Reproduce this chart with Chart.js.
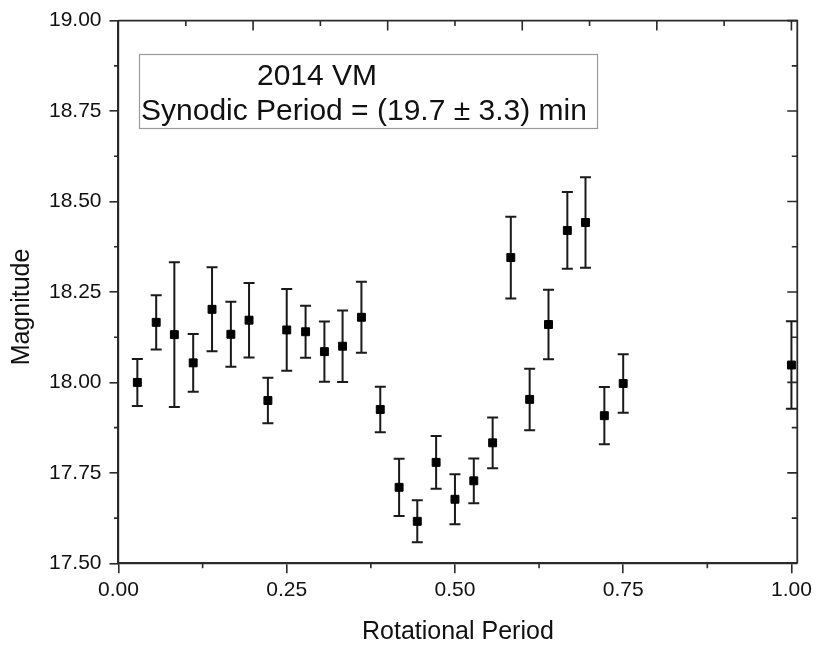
<!DOCTYPE html>
<html>
<head>
<meta charset="utf-8">
<script src="https://cdn.jsdelivr.net/npm/chart.js@4"></script>
<style>
  html, body { margin: 0; padding: 0; background: #fff; }
  #c { display: block; }
</style>
</head>
<body>
<canvas id="c" width="816" height="646"></canvas>
<script>
// ---- data ----
const phase = [0.028, 0.056, 0.083, 0.111, 0.139, 0.167, 0.194, 0.222, 0.250, 0.278,
               0.306, 0.333, 0.361, 0.389, 0.417, 0.444, 0.472, 0.500, 0.528, 0.556,
               0.583, 0.611, 0.639, 0.667, 0.694, 0.722, 0.750, 1.000];
const magnitude = [18.000, 18.166, 18.132, 18.054, 18.202, 18.133, 18.172, 17.950, 18.145, 18.140,
                   18.085, 18.100, 18.180, 17.925, 17.710, 17.616, 17.779, 17.677, 17.728, 17.833,
                   18.345, 17.953, 18.160, 18.420, 18.442, 17.908, 17.997, 18.048];
const magError = [0.065, 0.075, 0.200, 0.080, 0.116, 0.090, 0.103, 0.063, 0.113, 0.072,
                  0.083, 0.099, 0.098, 0.063, 0.079, 0.058, 0.073, 0.069, 0.062, 0.070,
                  0.113, 0.085, 0.096, 0.106, 0.125, 0.079, 0.081, 0.121];
const xTickValues = [0, 0.25, 0.5, 0.75, 1.0];
const xMinorValues = [0.125, 0.375, 0.625, 0.875];
const topTickValues = [0.1, 0.2, 0.3, 0.4, 0.5, 0.6, 0.7, 0.8, 0.9, 1.0];
const topMajorValues = [0.2, 0.4, 0.6, 0.8, 1.0];
const yTickValues = [17.5, 17.75, 18.0, 18.25, 18.5, 18.75, 19.0];
const yMinorValues = [17.625, 17.875, 18.125, 18.375, 18.625, 18.875];
const xTitle = "Rotational Period";
const yTitle = "Magnitude";
const boxLines = ["2014 VM", "Synodic Period = (19.7 \u00B1 3.3) min"];

const FONT = 'Arial, "Liberation Sans", Helvetica, sans-serif';
const INK = '#111';
const LINE = '#2a2a2a';

const decor = {
  id: 'decor',
  beforeDatasetsDraw(chart) {
    const ctx = chart.ctx, xs = chart.scales.x, ys = chart.scales.y;
    ctx.save();
    ctx.strokeStyle = '#1a1a1a';
    ctx.lineWidth = 2;
    for (let i = 0; i < phase.length; i++) {
      const px = xs.getPixelForValue(phase[i]);
      const top = ys.getPixelForValue(magnitude[i] + magError[i]);
      const bot = ys.getPixelForValue(magnitude[i] - magError[i]);
      ctx.beginPath();
      ctx.moveTo(px, top); ctx.lineTo(px, bot);
      ctx.moveTo(px - 5.5, top); ctx.lineTo(px + 5.5, top);
      ctx.moveTo(px - 5.5, bot); ctx.lineTo(px + 5.5, bot);
      ctx.stroke();
    }
    ctx.restore();
  },
  afterDraw(chart) {
    const ctx = chart.ctx, xs = chart.scales.x, ys = chart.scales.y;
    const a = chart.chartArea;
    ctx.save();
    ctx.strokeStyle = LINE;
    // minor outward ticks
    ctx.lineWidth = 1.6;
    ctx.beginPath();
    xMinorValues.forEach(v => { const p = xs.getPixelForValue(v); ctx.moveTo(p, a.bottom); ctx.lineTo(p, a.bottom + 5); });
    yMinorValues.forEach(v => { const p = ys.getPixelForValue(v); ctx.moveTo(a.left, p); ctx.lineTo(a.left - 4.5, p); });
    ctx.stroke();
    // mirrored inward ticks on top and right
    ctx.beginPath();
    topTickValues.forEach(v => {
      const p = xs.getPixelForValue(v);
      const len = topMajorValues.includes(v) ? 10 : 5.5;
      ctx.moveTo(p, a.top); ctx.lineTo(p, a.top + len);
    });
    yTickValues.forEach(v => { const p = ys.getPixelForValue(v); ctx.moveTo(a.right, p); ctx.lineTo(a.right - 10, p); });
    yMinorValues.forEach(v => { const p = ys.getPixelForValue(v); ctx.moveTo(a.right, p); ctx.lineTo(a.right - 5.5, p); });
    ctx.stroke();
    // top and right frame lines
    ctx.lineWidth = 1.8;
    ctx.beginPath();
    ctx.moveTo(a.left, a.top); ctx.lineTo(a.right, a.top); ctx.lineTo(a.right, a.bottom);
    ctx.stroke();
    // annotation box
    ctx.strokeStyle = '#9a9a9a';
    ctx.lineWidth = 1.2;
    ctx.strokeRect(139.5, 54.5, 458, 74);
    ctx.fillStyle = INK;
    ctx.font = '30px ' + FONT;
    ctx.textAlign = 'left';
    ctx.textBaseline = 'alphabetic';
    ctx.fillText(boxLines[0], 257, 85);
    ctx.fillText(boxLines[1], 141, 120);
    // axis titles
    ctx.font = '25px ' + FONT;
    ctx.textAlign = 'center';
    ctx.textBaseline = 'middle';
    ctx.fillText(xTitle, (a.left + a.right) / 2, 632);
    ctx.save();
    ctx.translate(22, 307);
    ctx.rotate(-Math.PI / 2);
    ctx.fillText(yTitle, 0, 0);
    ctx.restore();
    ctx.restore();
  }
};

new Chart(document.getElementById('c'), {
  type: 'scatter',
  data: {
    datasets: [{
      data: phase.map((x, i) => ({ x: x, y: magnitude[i] })),
      pointStyle: 'rect',
      pointRadius: 5.6,
      pointHoverRadius: 5.6,
      backgroundColor: '#000',
      borderColor: '#000',
      borderWidth: 1,
      clip: false
    }]
  },
  options: {
    responsive: false,
    animation: false,
    events: [],
    layout: { padding: { top: 16, right: 16.7, bottom: 0, left: 0 } },
    plugins: { legend: { display: false }, tooltip: { enabled: false } },
    scales: {
      x: {
        type: 'linear',
        min: 0,
        max: 1.0087,
        afterBuildTicks: s => { s.ticks = xTickValues.map(v => ({ value: v })); },
        afterFit: s => { s.height = 82.7; },
        ticks: {
          color: INK,
          font: { family: FONT, size: 21 },
          padding: 4,
          maxRotation: 0,
          autoSkip: false,
          callback: v => Number(v).toFixed(2)
        },
        grid: { drawOnChartArea: false, drawTicks: true, tickLength: 10, color: LINE, lineWidth: 1.6 },
        border: { display: true, color: LINE, width: 2.2 }
      },
      y: {
        type: 'linear',
        min: 17.5,
        max: 19.0,
        afterBuildTicks: s => { s.ticks = yTickValues.map(v => ({ value: v })); },
        afterFit: s => { s.width = 118.5; },
        ticks: {
          color: INK,
          font: { family: FONT, size: 21 },
          padding: 8,
          autoSkip: false,
          callback: v => Number(v).toFixed(2)
        },
        grid: { drawOnChartArea: false, drawTicks: true, tickLength: 9, color: LINE, lineWidth: 1.6 },
        border: { display: true, color: LINE, width: 2.2 }
      }
    }
  },
  plugins: [decor]
});
</script>
</body>
</html>
